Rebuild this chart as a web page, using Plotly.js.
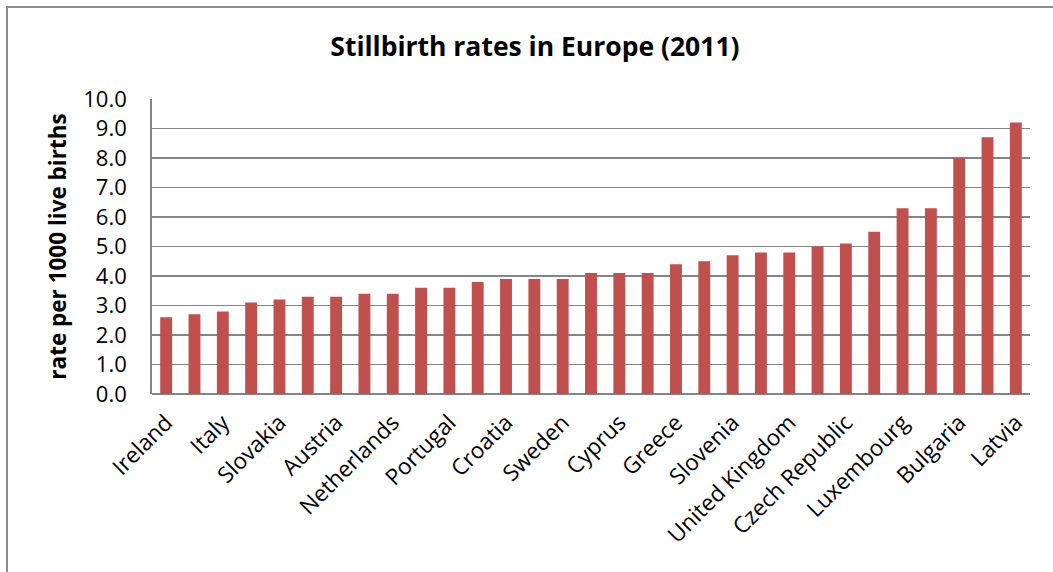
<!DOCTYPE html>
<html>
<head>
<meta charset="utf-8">
<script src="https://cdn.plot.ly/plotly-3.0.1.min.js"></script>
<style>
  html, body { margin: 0; padding: 0; background: #fff; }
  #wrap { position: relative; width: 1053px; height: 572px; overflow: hidden; }
  #frame { position: absolute; left: 6px; top: 6px; width: 1100px; height: 600px;
           border-left: 2px solid #8c8c8c; border-top: 2px solid #8c8c8c; pointer-events: none; }
  #chart { position: absolute; left: 0; top: 0; width: 1053px; height: 572px; }
</style>
</head>
<body>
<div id="wrap">
  <div id="chart"></div>
  <div id="frame"></div>
</div>
<script>
// Stillbirth rates per 1000 live births, 2011, sorted ascending
const countries = [
  "Ireland", "Finland", "Italy", "Denmark", "Slovakia", "Spain", "Austria", "Germany",
  "Netherlands", "Norway", "Portugal", "Estonia", "Croatia", "Iceland", "Sweden",
  "Belgium", "Cyprus", "Poland", "Greece", "Malta", "Slovenia", "Lithuania",
  "United Kingdom", "Switzerland", "Czech Republic", "Hungary", "Luxembourg",
  "France", "Bulgaria", "Romania", "Latvia"
];
const rates = [
  2.6, 2.7, 2.8, 3.1, 3.2, 3.3, 3.3, 3.4,
  3.4, 3.6, 3.6, 3.8, 3.9, 3.9, 3.9,
  4.1, 4.1, 4.1, 4.4, 4.5, 4.7, 4.8,
  4.8, 5.0, 5.1, 5.5, 6.3,
  6.3, 8.0, 8.7, 9.2
];
// Only every other country name is printed on the axis
const labelled = countries.filter((c, i) => i % 2 === 0);
const yTicks = [0, 1, 2, 3, 4, 5, 6, 7, 8, 9, 10];

const font = "'Open Sans', 'Noto Sans', sans-serif";

Plotly.newPlot("chart", [{
  type: "bar",
  x: countries,
  y: rates,
  marker: { color: "#C0504D" },
  hoverinfo: "x+y"
}], {
  width: 1053, height: 572,
  margin: { l: 152, r: 23, t: 99, b: 178 },
  paper_bgcolor: "rgba(0,0,0,0)",
  plot_bgcolor: "#fff",
  bargap: 0.58,
  showlegend: false,
  title: {
    text: "<b>Stillbirth rates in Europe (2011)</b>",
    font: { family: font, size: 26.5, color: "#000" },
    x: 0.508, xanchor: "center", y: 0.918, yanchor: "middle"
  },
  xaxis: {
    type: "category",
    tickmode: "array",
    tickvals: labelled,
    ticktext: labelled,
    tickangle: -45,
    tickfont: { family: font, size: 22.5, color: "#000" },
    ticklabelstandoff: 10,
    showgrid: false,
    showline: false,
    ticks: "",
    zeroline: false
  },
  yaxis: {
    range: [0, 10],
    tickmode: "array",
    tickvals: yTicks,
    ticktext: yTicks.map(v => v.toFixed(1)),
    tickfont: { family: font, size: 22, color: "#000" },
    ticklabelstandoff: 19,
    showgrid: true,
    gridcolor: "#858585",
    gridwidth: 1.8,
    showline: true,
    linecolor: "#858585",
    linewidth: 1.8,
    zeroline: true,
    zerolinecolor: "#858585",
    zerolinewidth: 1.8,
    ticks: "",
    title: {
      text: "<b>rate per 1000 live births</b>",
      font: { family: font, size: 22.5, color: "#000" },
      standoff: 10
    }
  }
}, { displayModeBar: false, staticPlot: true });
</script>
</body>
</html>
